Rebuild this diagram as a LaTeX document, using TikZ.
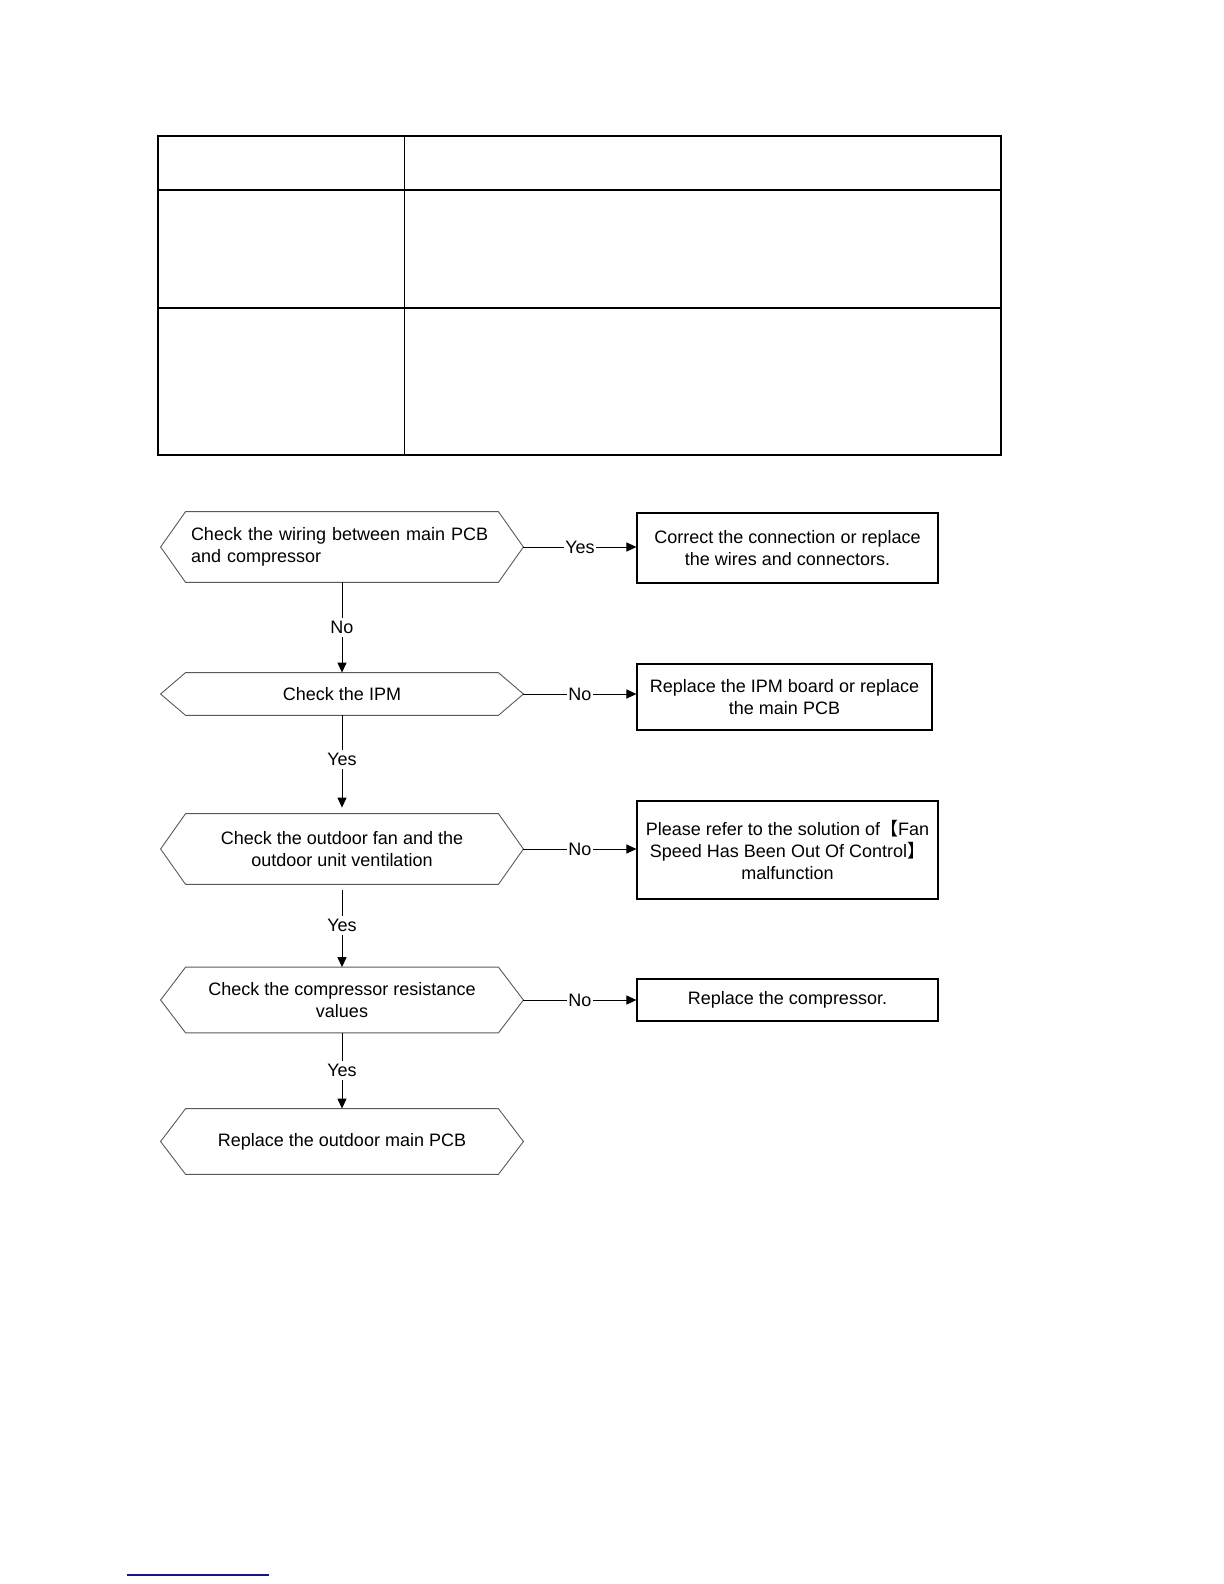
\documentclass[tikz,border=0pt]{standalone}
\usepackage{fontspec}
\setmainfont{Liberation Sans}
\newfontfamily\cjk{Noto Sans CJK SC}
\usetikzlibrary{arrows.meta}
\definecolor{linkblue}{RGB}{20,20,140}
\begin{document}
\begin{tikzpicture}[x=0.5pt,y=-0.5pt,
  every node/.style={font=\fontsize{9}{11}\selectfont, inner sep=0pt},
  hexnode/.style={minimum width=181pt, align=center},
  boxnode/.style={draw, line width=0.55pt, align=center},
  hexline/.style={draw=black!65, line width=0.45pt},
  flow/.style={line width=0.5pt, -{Triangle[length=5pt,width=4.5pt]}},
  lab/.style={fill=white, inner xsep=0.8pt, inner ysep=1.5pt},
  tabline/.style={line width=0.8pt}]
\useasboundingbox (0,0) rectangle (1224,1584);

% table
\draw[tabline] (158,136) rectangle (1001,455);
\draw[tabline] (158,190) -- (1001,190);
\draw[tabline] (158,308) -- (1001,308);
\draw[line width=0.5pt] (404,136) -- (404,455);

% decision hexagons
\node[hexnode, minimum height=35pt, text width=151pt, align=left] (h1) at (342,547) {Check the wiring between main PCB\\and compressor};
\node[hexnode, minimum height=21pt] (h2) at (342,694) {Check the IPM};
\node[hexnode, minimum height=35pt] (h3) at (342,849) {Check the outdoor fan and the\\outdoor unit ventilation};
\node[hexnode, minimum height=32.5pt] (h4) at (342,1000) {Check the compressor resistance\\values};
\node[hexnode, minimum height=32.5pt] (h5) at (342,1141.5) {Replace the outdoor main PCB};
\foreach \n in {h1,h2,h3,h4,h5}
  \draw[hexline] (\n.west) -- ([xshift=12.5pt]\n.north west) -- ([xshift=-12.5pt]\n.north east)
    -- (\n.east) -- ([xshift=-12.5pt]\n.south east) -- ([xshift=12.5pt]\n.south west) -- cycle;

% action boxes
\node[boxnode, minimum width=150.5pt, minimum height=35pt] (b1) at (787.5,548) {Correct the connection or replace\\the wires and connectors.};
\node[boxnode, minimum width=147.5pt, minimum height=33pt] (b2) at (784.5,697) {Replace the IPM board or replace\\the main PCB};
\node[boxnode, minimum width=150.5pt, minimum height=49pt] (b3) at (787.5,850) {Please refer to the solution of{\cjk 【}Fan\\Speed Has Been Out Of Control{\cjk 】}\\malfunction};
\node[boxnode, minimum width=150.5pt, minimum height=21pt] (b4) at (787.5,1000) {Replace the compressor.};

% horizontal connectors
\draw[flow] (h1.east) -- node[lab]{Yes} (h1.east -| b1.west);
\draw[flow] (h2.east) -- node[lab]{No} (h2.east -| b2.west);
\draw[flow] (h3.east) -- node[lab]{No} (h3.east -| b3.west);
\draw[flow] (h4.east) -- node[lab]{No} (h4.east -| b4.west);

% vertical connectors
\draw[flow] (h1.south) -- node[lab]{No} (h2.north);
\draw[flow, shorten >=3pt] (h2.south) -- node[lab, pos=0.45]{Yes} (h3.north);
\draw[flow, shorten <=3pt] (h3.south) -- node[lab]{Yes} (h4.north);
\draw[flow] (h4.south) -- node[lab]{Yes} (h5.north);

% link underline at page bottom
\draw[line width=0.7pt, linkblue] (127,1575) -- (269,1575);
\end{tikzpicture}
\end{document}
